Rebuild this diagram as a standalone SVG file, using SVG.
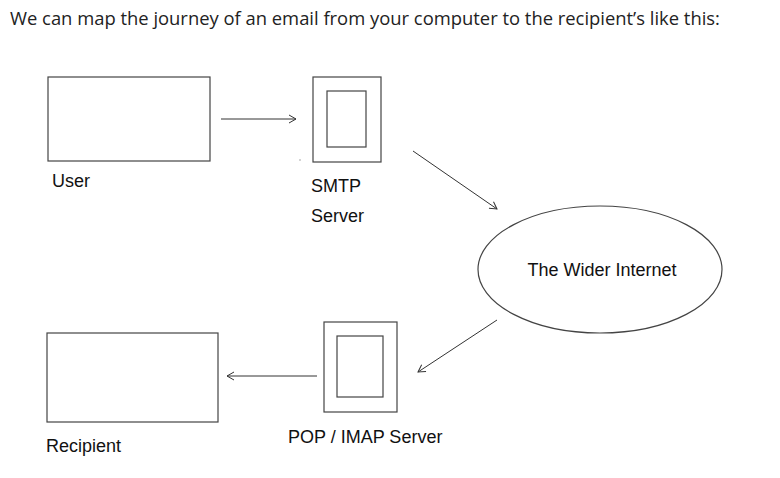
<svg xmlns="http://www.w3.org/2000/svg" width="780" height="478" viewBox="0 0 780 478">
<style>
.box{fill:#fff;stroke:#444;stroke-width:1.2}
.lbl{font-family:"Liberation Sans",Arial,sans-serif;font-size:18px;fill:#111}
.title{font-family:"Open Sans","DejaVu Sans",sans-serif;font-size:18.4px;fill:#222}
.conn{stroke:#333;stroke-width:1;fill:none;marker-end:url(#arr)}
</style>
<defs>
<marker id="arr" markerWidth="12" markerHeight="12" viewBox="-10 -6 12 12" refX="0" refY="0" orient="auto" markerUnits="userSpaceOnUse">
<polyline points="-7,-4 0,0 -7,4" fill="none" stroke="#333" stroke-width="1"/>
</marker>
</defs>
<rect width="780" height="478" fill="#fff"/>
<text class="title" x="10" y="25">We can map the journey of an email from your computer to the recipient’s like this:</text>
<g id="user">
<rect class="box" x="48" y="77" width="162" height="84"/>
<text class="lbl" x="52" y="187">User</text>
</g>
<g id="smtp">
<rect class="box" x="313" y="77" width="68" height="85"/>
<rect class="box" x="327" y="91" width="39" height="56"/>
<text class="lbl" x="311" y="192">SMTP</text>
<text class="lbl" x="311" y="222">Server</text>
</g>
<g id="internet">
<ellipse class="box" cx="600" cy="269.5" rx="122" ry="63.5"/>
<text class="lbl" x="602" y="276" text-anchor="middle">The Wider Internet</text>
</g>
<g id="pop">
<rect class="box" x="324" y="322" width="73" height="90"/>
<rect class="box" x="337" y="336" width="46" height="61"/>
<text class="lbl" x="288" y="443">POP / IMAP Server</text>
</g>
<g id="recipient">
<rect class="box" x="47" y="333" width="171" height="89"/>
<text class="lbl" x="46" y="452">Recipient</text>
</g>
<g id="connectors">
<line class="conn" x1="221" y1="119" x2="296" y2="119"/>
<line class="conn" x1="413" y1="151" x2="497" y2="209"/>
<line class="conn" x1="497" y1="320" x2="418" y2="372"/>
<line class="conn" x1="317" y1="376" x2="227" y2="376"/>
</g>
<circle cx="300" cy="160" r="0.7" fill="#888"/>
</svg>
